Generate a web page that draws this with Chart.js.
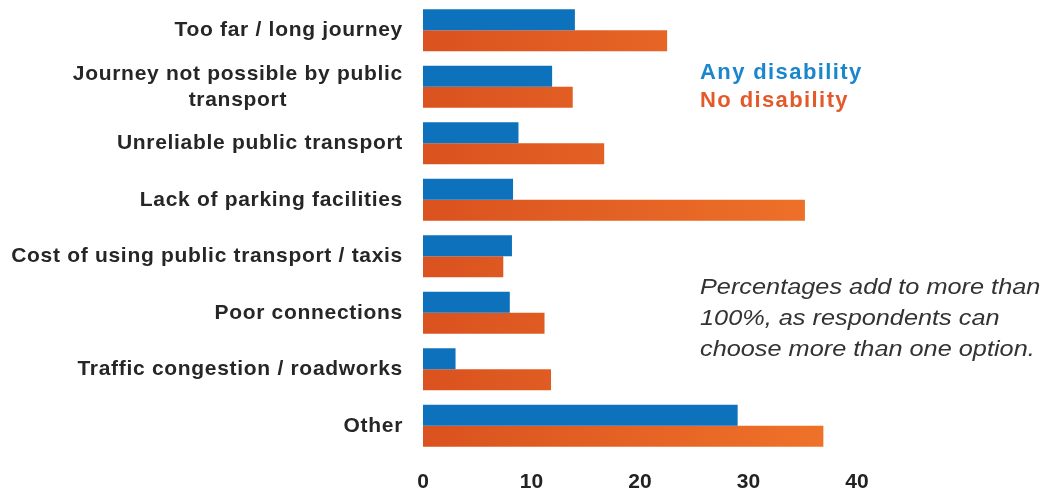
<!DOCTYPE html>
<html>
<head>
<meta charset="utf-8">
<script src="https://cdn.jsdelivr.net/npm/chart.js@4"></script>
<style>
  body { margin: 0; background: #fff; }
  #wrap { position: relative; width: 1051px; height: 493px; }
  .key { position: absolute; left: 700px; font: bold 22px "Liberation Sans", Arial, sans-serif; letter-spacing: 1.4px; }
  #note { position: absolute; left: 700px; top: 271px; font: italic 22px "Liberation Sans", Arial, sans-serif; line-height: 31px; color: #333; transform: scaleX(1.15); transform-origin: left top; white-space: nowrap; }
</style>
</head>
<body>
<div id="wrap">
  <canvas id="reasonsChart" width="1051" height="493"></canvas>
  <div class="key" style="top:59px;color:#1a86cc">Any disability</div>
  <div class="key" style="top:87px;color:#e4592a">No disability</div>
  <div id="note">Percentages add to more than<br>100%, as respondents can<br>choose more than one option.</div>
</div>
<script>
const reasons = [
  ['Too far / long journey'],
  ['Journey not possible by public', 'transport'],
  ['Unreliable public transport'],
  ['Lack of parking facilities'],
  ['Cost of using public transport / taxis'],
  ['Poor connections'],
  ['Traffic congestion / roadworks'],
  ['Other']
];
const anyDisability = [14.0, 11.9, 8.8, 8.3, 8.2, 8.0, 3.0, 29.0];
const noDisability = [22.5, 13.8, 16.7, 35.2, 7.4, 11.2, 11.8, 36.9];
const xTicks = [0, 10, 20, 30, 40];

const labelFont = 'bold 21px "Liberation Sans", Arial, sans-serif';

// category labels: right-aligned block, lines centred inside it
const categoryLabels = {
  id: 'categoryLabels',
  afterDraw(chart) {
    const ctx = chart.ctx;
    const y = chart.scales.y;
    const right = chart.chartArea.left - 20;
    ctx.save();
    ctx.font = labelFont;
    ctx.letterSpacing = '0.7px';
    ctx.fillStyle = '#262626';
    ctx.textAlign = 'center';
    ctx.textBaseline = 'middle';
    reasons.forEach((lines, i) => {
      const w = Math.max(...lines.map(l => ctx.measureText(l).width));
      const cy = y.getPixelForTick(i);
      const lh = 26;
      lines.forEach((l, j) => {
        ctx.fillText(l, right - w / 2, cy + (j - (lines.length - 1) / 2) * lh);
      });
    });
    ctx.restore();
  }
};

const ctx = document.getElementById('reasonsChart').getContext('2d');
const orangeFill = ctx.createLinearGradient(423, 0, 857, 0);
orangeFill.addColorStop(0, '#da521f');
orangeFill.addColorStop(1, '#f0742a');

new Chart(ctx, {
  type: 'bar',
  data: {
    labels: reasons,
    datasets: [
      { label: 'Any disability', data: anyDisability, backgroundColor: '#0d72bb' },
      { label: 'No disability', data: noDisability, backgroundColor: orangeFill }
    ]
  },
  options: {
    indexAxis: 'y',
    responsive: false,
    animation: false,
    layout: { padding: { top: 2, right: 194, left: 0, bottom: 0 } },
    plugins: { legend: { display: false }, tooltip: { enabled: false } },
    datasets: { bar: { categoryPercentage: 0.745, barPercentage: 1 } },
    scales: {
      x: {
        min: 0,
        max: 40,
        afterBuildTicks: s => { s.ticks = xTicks.map(v => ({ value: v })); },
        afterFit: s => { s.height = 39; },
        grid: { display: false, drawTicks: false },
        border: { display: false },
        ticks: {
          padding: 16,
          color: '#222',
          font: { family: '"Liberation Sans", Arial, sans-serif', size: 21, weight: 'bold' }
        }
      },
      y: {
        afterFit: s => { s.width = 423; },
        grid: { display: false, drawTicks: false },
        border: { display: false },
        ticks: { display: false }
      }
    }
  },
  plugins: [categoryLabels]
});
</script>
</body>
</html>
